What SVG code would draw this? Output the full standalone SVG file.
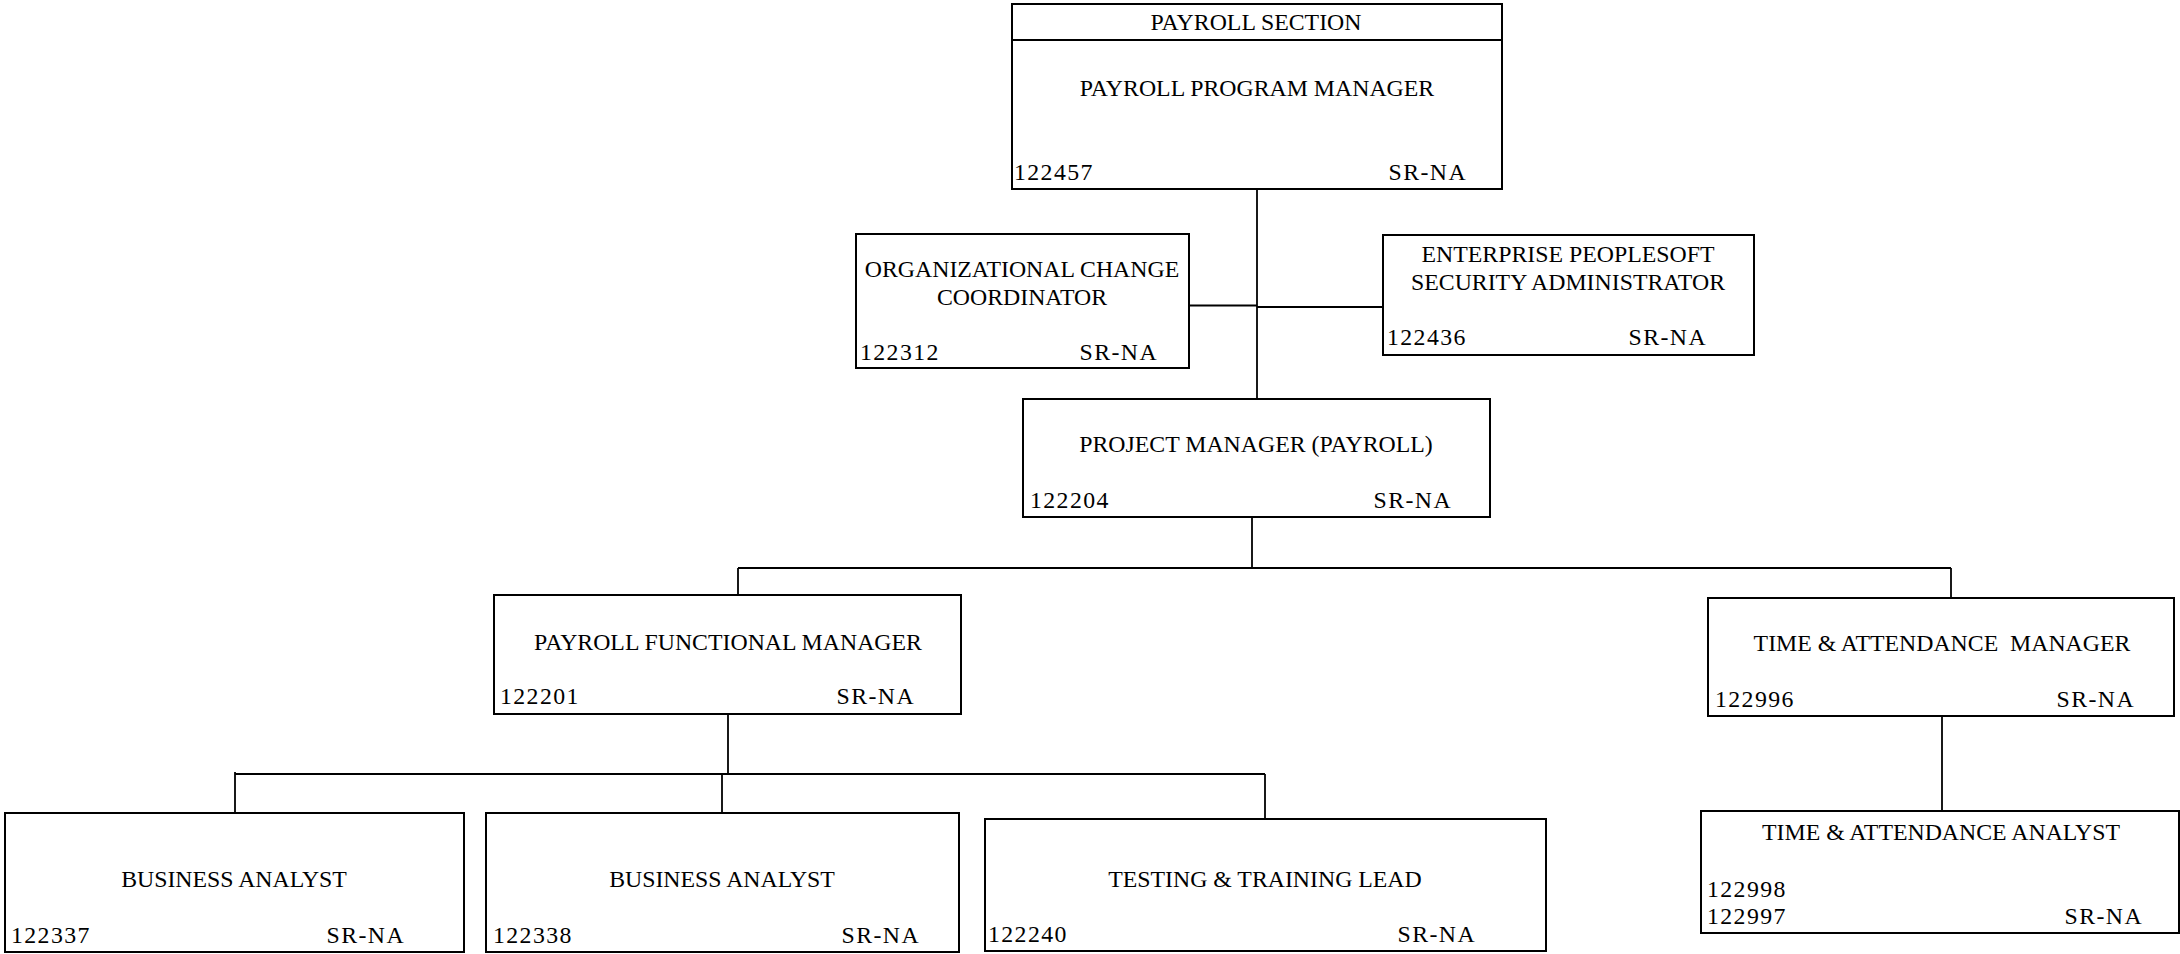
<svg xmlns="http://www.w3.org/2000/svg" width="2180" height="954" viewBox="0 0 2180 954">
<style>
  .box { fill: #ffffff; stroke: #000000; stroke-width: 2; }
  .ln { fill: none; stroke: #000000; stroke-width: 1.8; }
  text { font-family: "Liberation Serif", "Times New Roman", serif; font-size: 23.8px; fill: #000000; }
  .t { text-anchor: middle; }
  .num { letter-spacing: 1.4px; }
  .sr { text-anchor: end; letter-spacing: 1.4px; }
</style>
<rect x="0" y="0" width="2180" height="954" fill="#ffffff"/>
<g id="connectors">
  <line class="ln" x1="1257" y1="189" x2="1257" y2="399"/>
  <line class="ln" x1="1189" y1="305.5" x2="1257" y2="305.5"/>
  <line class="ln" x1="1257" y1="307" x2="1383" y2="307"/>
  <line class="ln" x1="1252" y1="517" x2="1252" y2="568"/>
  <line class="ln" x1="738" y1="568" x2="1951" y2="568"/>
  <line class="ln" x1="738" y1="568" x2="738" y2="595"/>
  <line class="ln" x1="1951" y1="568" x2="1951" y2="598"/>
  <line class="ln" x1="728" y1="714" x2="728" y2="774"/>
  <line class="ln" x1="235" y1="774" x2="1265" y2="774"/>
  <line class="ln" x1="235" y1="772" x2="235" y2="813"/>
  <line class="ln" x1="722" y1="774" x2="722" y2="813"/>
  <line class="ln" x1="1265" y1="774" x2="1265" y2="819"/>
  <line class="ln" x1="1942" y1="716" x2="1942" y2="811"/>
</g>
<g id="payroll-program-manager">
  <rect class="box" x="1012" y="4" width="490" height="185"/>
  <line class="ln" x1="1012" y1="40" x2="1502" y2="40"/>
  <text class="t" x="1256" y="30">PAYROLL SECTION</text>
  <text class="t" x="1257" y="96">PAYROLL PROGRAM MANAGER</text>
  <text class="num" x="1014" y="180">122457</text>
  <text class="sr" x="1467" y="180">SR-NA</text>
</g>
<g id="org-change-coordinator">
  <rect class="box" x="856" y="234" width="333" height="134"/>
  <text class="t" x="1022" y="277">ORGANIZATIONAL CHANGE</text>
  <text class="t" x="1022" y="305">COORDINATOR</text>
  <text class="num" x="860" y="360">122312</text>
  <text class="sr" x="1158" y="360">SR-NA</text>
</g>
<g id="peoplesoft-security-admin">
  <rect class="box" x="1383" y="235" width="371" height="120"/>
  <text class="t" x="1568" y="262">ENTERPRISE PEOPLESOFT</text>
  <text class="t" x="1568" y="290">SECURITY ADMINISTRATOR</text>
  <text class="num" x="1387" y="345">122436</text>
  <text class="sr" x="1707" y="345">SR-NA</text>
</g>
<g id="project-manager">
  <rect class="box" x="1023" y="399" width="467" height="118"/>
  <text class="t" x="1256" y="452">PROJECT MANAGER (PAYROLL)</text>
  <text class="num" x="1030" y="508">122204</text>
  <text class="sr" x="1452" y="508">SR-NA</text>
</g>
<g id="payroll-functional-manager">
  <rect class="box" x="494" y="595" width="467" height="119"/>
  <text class="t" x="728" y="650">PAYROLL FUNCTIONAL MANAGER</text>
  <text class="num" x="500" y="704">122201</text>
  <text class="sr" x="915" y="704">SR-NA</text>
</g>
<g id="time-attendance-manager">
  <rect class="box" x="1708" y="598" width="466" height="118"/>
  <text class="t" x="1942" y="651" xml:space="preserve" style="white-space:pre">TIME &amp; ATTENDANCE  MANAGER</text>
  <text class="num" x="1715" y="707">122996</text>
  <text class="sr" x="2135" y="707">SR-NA</text>
</g>
<g id="business-analyst-1">
  <rect class="box" x="5" y="813" width="459" height="139"/>
  <text class="t" x="234" y="887">BUSINESS ANALYST</text>
  <text class="num" x="11" y="943">122337</text>
  <text class="sr" x="405" y="943">SR-NA</text>
</g>
<g id="business-analyst-2">
  <rect class="box" x="486" y="813" width="473" height="139"/>
  <text class="t" x="722" y="887">BUSINESS ANALYST</text>
  <text class="num" x="493" y="943">122338</text>
  <text class="sr" x="920" y="943">SR-NA</text>
</g>
<g id="testing-training-lead">
  <rect class="box" x="985" y="819" width="561" height="132"/>
  <text class="t" x="1265" y="887">TESTING &amp; TRAINING LEAD</text>
  <text class="num" x="988" y="942">122240</text>
  <text class="sr" x="1476" y="942">SR-NA</text>
</g>
<g id="time-attendance-analyst">
  <rect class="box" x="1701" y="811" width="478" height="122"/>
  <text class="t" x="1941" y="840">TIME &amp; ATTENDANCE ANALYST</text>
  <text class="num" x="1707" y="897">122998</text>
  <text class="num" x="1707" y="924">122997</text>
  <text class="sr" x="2143" y="924">SR-NA</text>
</g>
</svg>
